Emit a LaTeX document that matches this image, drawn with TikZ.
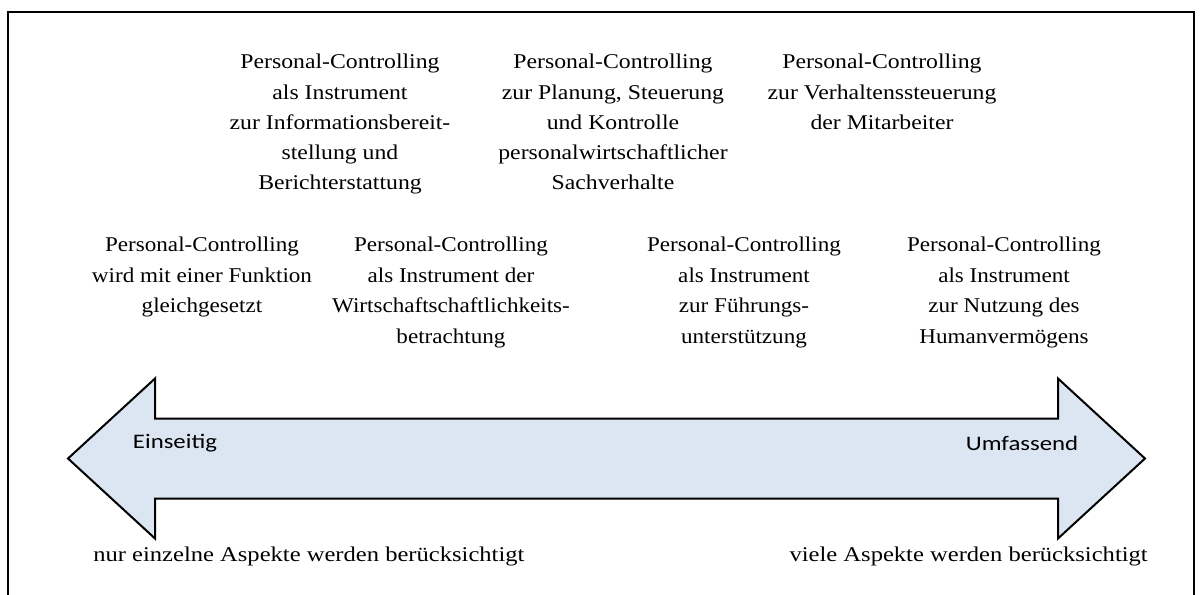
\documentclass[tikz,border=0pt]{standalone}
\usepackage{fontspec}
\newfontfamily\tnr[FakeStretch=1.1]{Liberation Serif}
\newfontfamily\tnrtop[FakeStretch=1.13]{Liberation Serif}
\newfontfamily\tnrcap[FakeStretch=1.17]{Liberation Serif}
\newfontfamily\calf[FakeStretch=1.2]{Carlito}
\definecolor{arrowfill}{HTML}{DCE6F2}
\begin{document}
\begin{tikzpicture}[x=0.75pt,y=-0.75pt,
  lbl/.style={align=center,inner sep=0pt,font=\tnr\fontsize{15.75}{22.8}\selectfont},
  lbltop/.style={lbl,font=\tnrtop\fontsize{15.75}{22.7}\selectfont},
  captxt/.style={inner sep=0pt,font=\tnrcap\fontsize{15.75}{18}\selectfont},
  pole/.style={inner sep=0pt,font=\calf\fontsize{15.5}{18}\selectfont}]
\useasboundingbox (0,0) rectangle (1203,594);
% frame (open at bottom)
\draw[line width=1.6pt] (8,600) -- (8,12) -- (1194,12) -- (1194,600);
% double arrow
\draw[line width=1.5pt,fill=arrowfill,line join=miter]
  (68,458.5) -- (155,378.5) -- (155,418.5) -- (1058,418.5) -- (1058,378.5)
  -- (1145,458.5) -- (1058,538.5) -- (1058,498.5) -- (155,498.5) -- (155,538.5) -- cycle;
\node[pole] (ein) at (175,443) {Einseitig};
\node[pole] (umf) at (1022,443) {Umfassend};
% top row
\node[lbltop,anchor=north] (t1) at (340,54) {Personal-Controlling\\als Instrument\\zur Informationsbereit-\\stellung und\\Berichterstattung};
\node[lbltop,anchor=north] (t2) at (613,54) {Personal-Controlling\\zur Planung, Steuerung\\und Kontrolle\\personalwirtschaftlicher\\Sachverhalte};
\node[lbltop,anchor=north] (t3) at (882,54) {Personal-Controlling\\zur Verhaltenssteuerung\\der Mitarbeiter};
% bottom row
\node[lbl,anchor=north] (b1) at (202,237) {Personal-Controlling\\wird mit einer Funktion\\gleichgesetzt};
\node[lbl,anchor=north] (b2) at (451,237) {Personal-Controlling\\als Instrument der\\Wirtschaftschaftlichkeits-\\betrachtung};
\node[lbl,anchor=north] (b3) at (744,237) {Personal-Controlling\\als Instrument\\zur Führungs-\\unterstützung};
\node[lbl,anchor=north] (b4) at (1004,237) {Personal-Controlling\\als Instrument\\zur Nutzung des\\Humanvermögens};
% captions
\node[captxt,anchor=west] (c1) at (93,556) {nur einzelne Aspekte werden berücksichtigt};
\node[captxt,anchor=east] (c2) at (1148,556) {viele Aspekte werden berücksichtigt};
\end{tikzpicture}
\end{document}
